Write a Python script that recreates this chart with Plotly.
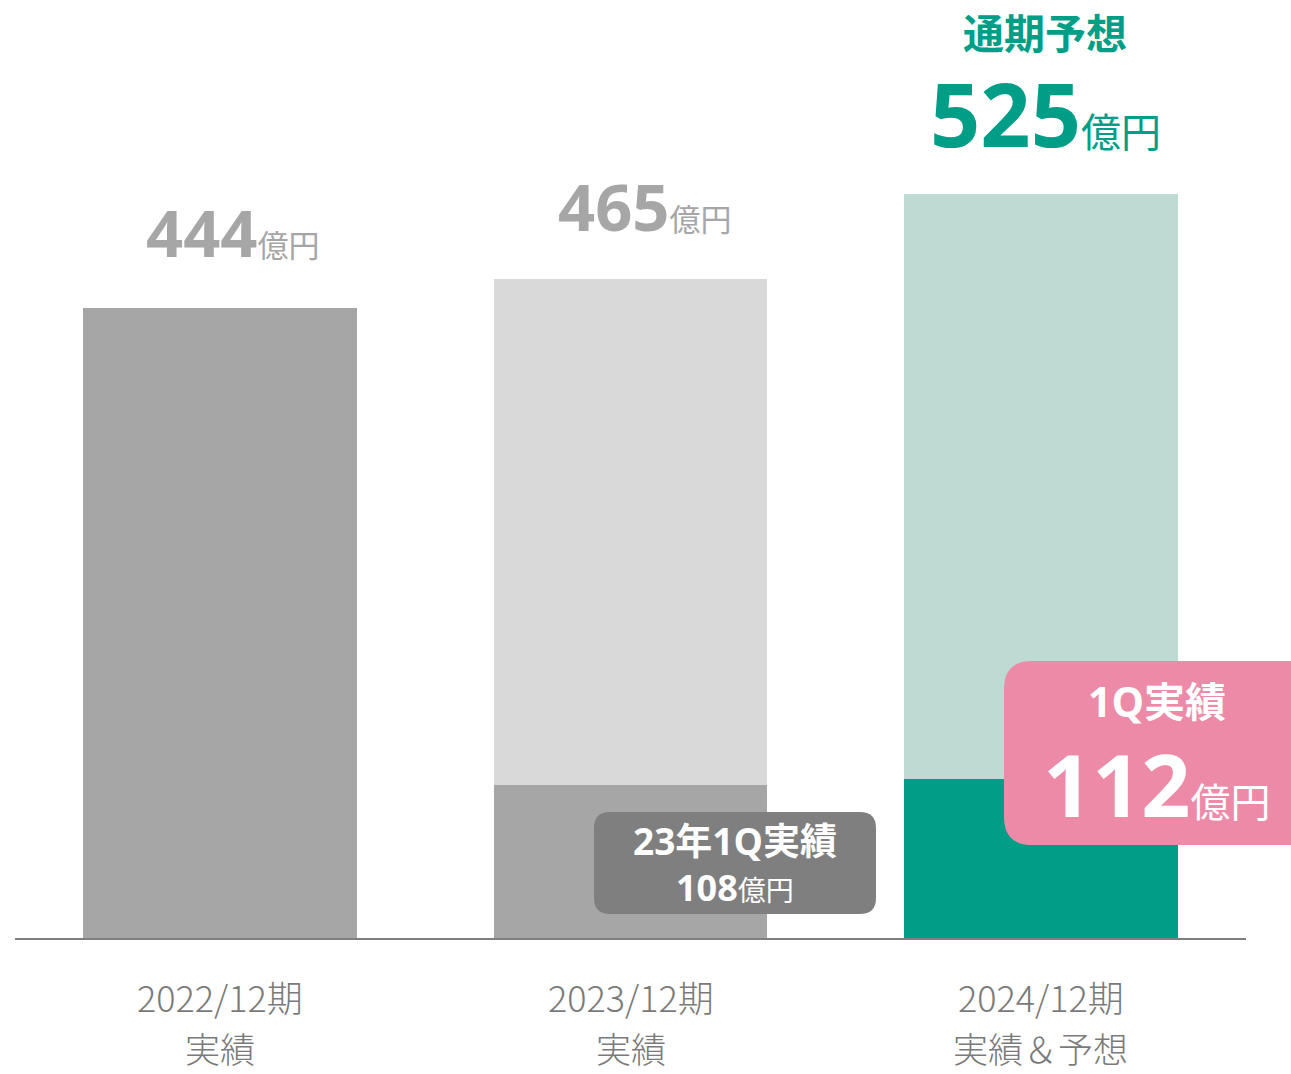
import plotly.graph_objects as go

# ---- data ----
categories = ["2022/12期", "2023/12期", "2024/12期"]
sub_labels = ["実績", "実績", "実績＆予想"]
totals = [444, 465, 525]
q1_values = [None, 108, 112]
base_values = [444, 108, 112]
rest_values = [0, 465 - 108, 525 - 112]

base_colors = ["#a6a6a6", "#a6a6a6", "#009e87"]
rest_colors = ["#d9d9d9", "#d9d9d9", "#bddad3"]
label_colors = ["#a6a6a6", "#a6a6a6", "#009e87"]

# ---- layout constants ----
FW, FH = 1291, 1074
ML, MR, MT, MB = 15, 45, 10, 136
PW = FW - ML - MR
PH = FH - MT - MB
YMAX = PH / 1.418

def px(x):
    return (x - ML) / PW

def py(y):
    return (FH - MB - y) / PH

FONT = "Open Sans, Noto Sans CJK JP, sans-serif"
JFONT = "Noto Sans CJK JP, sans-serif"

x = list(range(len(categories)))
fig = go.Figure()
fig.add_trace(go.Bar(x=x, y=base_values, marker=dict(color=base_colors, line=dict(width=0)),
                     width=0.667, hoverinfo="skip"))
fig.add_trace(go.Bar(x=x, y=rest_values, marker=dict(color=rest_colors, line=dict(width=0)),
                     width=0.667, hoverinfo="skip"))

ann = []
# category labels
for i, (c, s) in enumerate(zip(categories, sub_labels)):
    ann.append(dict(x=i, xref="x", y=py(996), yref="paper", text=c, showarrow=False,
                    font=dict(family=JFONT, size=36, color="#7a7a7a", weight=300),
                    xanchor="center", yanchor="middle"))
    ann.append(dict(x=i, xref="x", y=py(1074), yref="paper", text=s, showarrow=False,
                    font=dict(family=JFONT, size=35, color="#7a7a7a", weight=300),
                    xanchor="center", yanchor="bottom", borderpad=0))

# value labels for first two bars
shifts = [13, 14]
yshifts = [30, 27]
for i in range(2):
    ann.append(dict(x=i, xref="x", y=totals[i], yref="y",
                    text=f"<b>{totals[i]}</b><span style='font-size:31px'>億円</span>",
                    showarrow=False, xanchor="center", yanchor="bottom",
                    xshift=shifts[i], yshift=yshifts[i],
                    font=dict(family=FONT, size=65, color=label_colors[i])))

# forecast label
ann.append(dict(x=2, xref="x", y=py(31), yref="paper", text="<b>通期予想</b>", showarrow=False,
                xanchor="center", yanchor="middle", xshift=4,
                font=dict(family=JFONT, size=41, color="#009e87")))
ann.append(dict(x=2, xref="x", y=totals[2], yref="y",
                text=f"<b>{totals[2]}</b><span style='font-size:40px'>億円</span>",
                showarrow=False, xanchor="center", yanchor="bottom", xshift=5, yshift=19,
                font=dict(family=FONT, size=88, color="#009e87")))

def rounded(x0, y0, x1, y1, r):
    pts = [
        ("M", px(x0 + r), py(y0)),
        ("L", px(x1 - r), py(y0)),
        ("Q", px(x1), py(y0), px(x1), py(y0 + r)),
        ("L", px(x1), py(y1 - r)),
        ("Q", px(x1), py(y1), px(x1 - r), py(y1)),
        ("L", px(x0 + r), py(y1)),
        ("Q", px(x0), py(y1), px(x0), py(y1 - r)),
        ("L", px(x0), py(y0 + r)),
        ("Q", px(x0), py(y0), px(x0 + r), py(y0)),
    ]
    s = ""
    for p in pts:
        coords = p[1:]
        s += p[0] + " " + ",".join(f"{c:.5f}" for c in coords[:2])
        if len(coords) > 2:
            s += " " + ",".join(f"{c:.5f}" for c in coords[2:])
        s += " "
    return s + "Z"

shapes = [
    dict(type="path", xref="paper", yref="paper", path=rounded(594, 812, 876, 914, 16),
         fillcolor="#7f7f7f", line=dict(width=0), layer="above"),
    dict(type="path", xref="paper", yref="paper", path=rounded(1004, 661, 1320, 845, 28),
         fillcolor="#ec8aa8", line=dict(width=0), layer="above"),
]

# dark box text
ann.append(dict(x=px(735), xref="paper", y=py(840), yref="paper", text="<b>23年1Q実績</b>",
                showarrow=False, xanchor="center", yanchor="middle",
                font=dict(family=FONT, size=37, color="white")))
ann.append(dict(x=px(735), xref="paper", y=py(887), yref="paper",
                text=f"<b>{q1_values[1]}</b><span style='font-size:28px'>億円</span>",
                showarrow=False, xanchor="center", yanchor="middle",
                font=dict(family=FONT, size=36, color="white")))
# pink box text
ann.append(dict(x=px(1157), xref="paper", y=py(701), yref="paper", text="<b>1Q実績</b>",
                showarrow=False, xanchor="center", yanchor="middle",
                font=dict(family=FONT, size=41, color="white")))
ann.append(dict(x=px(1157), xref="paper", y=py(783), yref="paper",
                text=f"<b>{q1_values[2]}</b><span style='font-size:40px'>億円</span>",
                showarrow=False, xanchor="center", yanchor="middle",
                font=dict(family=FONT, size=86, color="white")))

fig.update_layout(
    width=FW, height=FH,
    margin=dict(l=ML, r=MR, t=MT, b=MB, autoexpand=False),
    paper_bgcolor="white", plot_bgcolor="white",
    barmode="stack", bargap=0, showlegend=False,
    xaxis=dict(range=[-0.5, 2.5], showticklabels=False, showgrid=False, zeroline=False,
               showline=True, linecolor="#7f7f7f", linewidth=1.5, ticks=""),
    yaxis=dict(range=[0, YMAX], visible=False, showgrid=False, zeroline=False),
    annotations=ann, shapes=shapes,
)
fig.write_html("out.html", config={"displayModeBar": False},
               post_script="document.body.style.margin='0';document.body.style.overflow='hidden';")
